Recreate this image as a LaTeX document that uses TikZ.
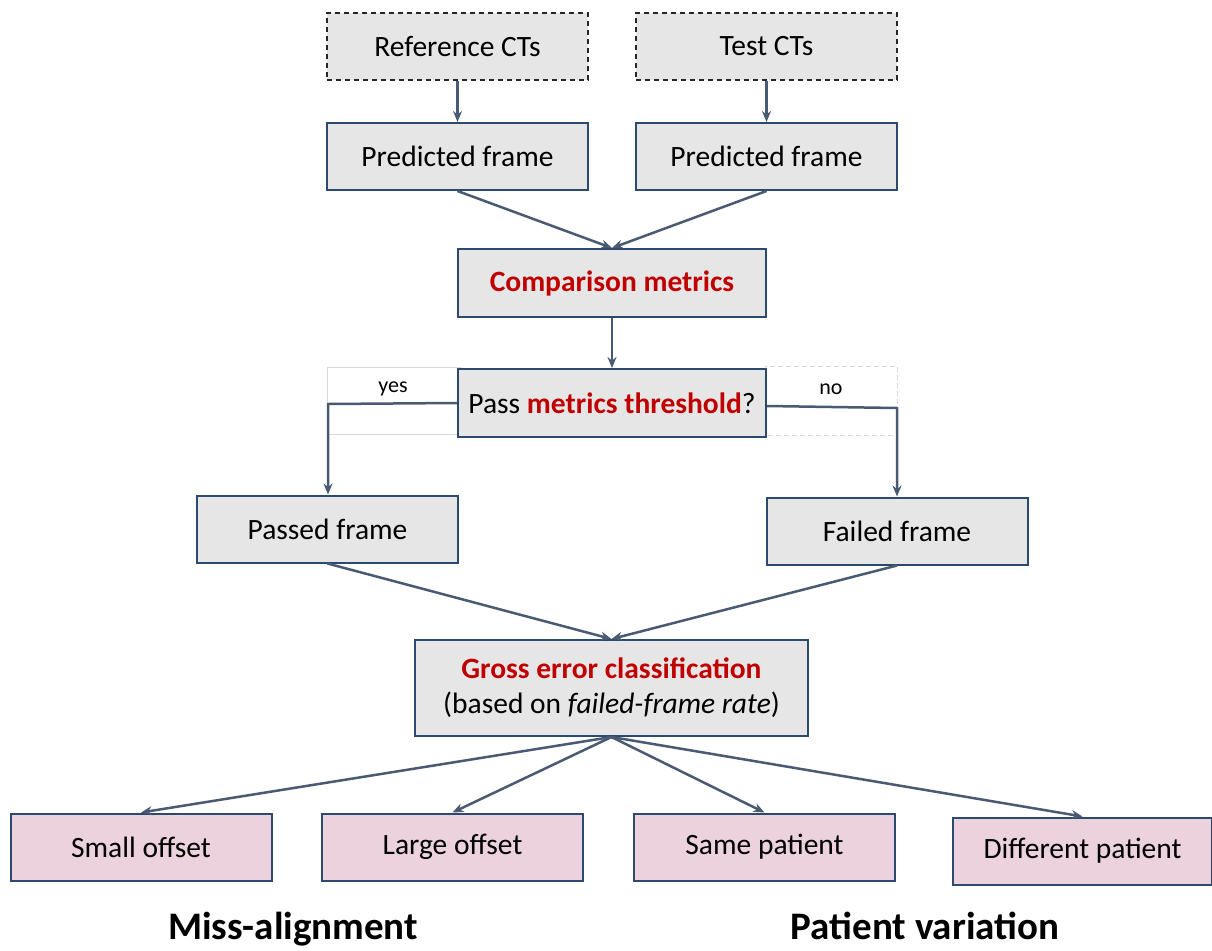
\documentclass[tikz,border=0pt]{standalone}
\usepackage{fontspec}
\setmainfont{Carlito}
\usetikzlibrary{arrows.meta}
\definecolor{boxfill}{HTML}{E6E6E6}
\definecolor{boxline}{HTML}{2C4A6E}
\definecolor{arrcol}{HTML}{4A5A72}
\definecolor{pinkfill}{HTML}{EBD2DC}
\definecolor{redtxt}{HTML}{C00000}
\definecolor{faint}{HTML}{D9D9D9}
\begin{document}
\begin{tikzpicture}[x=1pt,y=-1pt,
  basebox/.style={rectangle, minimum width=261pt, minimum height=67pt, inner sep=0pt,
    font=\fontsize{29.5}{35}\selectfont, align=center},
  graybox/.style={basebox, fill=boxfill, draw=boxline, line width=2pt},
  dashbox/.style={basebox, fill=boxfill, draw=black!85, dashed, line width=1.3pt, dash pattern=on 5pt off 4pt},
  pinkbox/.style={basebox, fill=pinkfill, draw=boxline, line width=2pt},
  arr/.style={draw=arrcol, line width=2.5pt, -{Stealth[length=11pt,width=9pt]}},
  lbl/.style={font=\fontsize{22}{26}\selectfont, inner sep=0pt},
  faintbox/.style={draw=faint, line width=0.8pt},
  titletxt/.style={font=\fontsize{39}{46}\selectfont\bfseries, inner sep=0pt, anchor=base}
]
\useasboundingbox (0,0) rectangle (1212,950);

% faint label boxes
\draw[faintbox] (327,367) rectangle (460,434);
\draw[faintbox, dashed, dash pattern=on 5pt off 3pt] (765,366) rectangle (897,435);

\node[dashbox] (ref) at (457.5,46.5) {Reference CTs};
\node[dashbox] (test) at (766.5,46.5) {Test CTs};
\node[graybox] (predL) at (457.5,156.5) {Predicted frame};
\node[graybox] (predR) at (766.5,156.5) {Predicted frame};
\node[graybox, minimum width=308pt, minimum height=68pt] (comp) at (612,283) {\textcolor{redtxt}{\bfseries Comparison metrics}};
\node[graybox, minimum width=308pt, minimum height=68pt] (pass) at (612,403) {Pass \textcolor{redtxt}{\bfseries metrics threshold}?};
\node[graybox] (passed) at (327.5,529) {Passed frame};
\node[graybox] (failed) at (897,531) {Failed frame};
\node[graybox, minimum width=393pt, minimum height=96pt] (gross) at (611.5,688)
  {\textcolor{redtxt}{\bfseries Gross error classification}\\(based on \textit{failed-frame rate})};
\node[pinkbox] (small) at (141,847) {Small offset};
\node[pinkbox] (large) at (452.5,847) {Large offset};
\node[pinkbox] (same) at (764.5,847) {Same patient};
\node[pinkbox, minimum width=259pt] (diff) at (1082.5,851) {Different patient};

\node[titletxt] (miss) at (293,939) {Miss-alignment};
\node[titletxt] (patvar) at (925,939) {Patient variation};

\node[lbl] (yes) at (393,389) {yes};
\node[lbl] (no) at (831,389) {no};

\coordinate (yc) at (328,404);
\coordinate (nc) at (897,408);

\draw[arr] (ref.south) -- (predL.north);
\draw[arr] (test.south) -- (predR.north);
\draw[arr] (predL.south) -- (comp.north);
\draw[arr] (predR.south) -- (comp.north);
\draw[arr] (comp.south) -- (pass.north);
\draw[arr] (pass.west) -- (yc) -- (passed.north -| yc);
\draw[arr] ([yshift=-3pt]pass.east) -- (nc) -- (failed.north -| nc);
\draw[arr] (passed.south) -- (gross.north);
\draw[arr] (failed.south) -- (gross.north);
\draw[arr] (gross.south) -- (small.north);
\draw[arr] (gross.south) -- (large.north);
\draw[arr] (gross.south) -- (same.north);
\draw[arr] (gross.south) -- (diff.north);
\end{tikzpicture}
\end{document}
